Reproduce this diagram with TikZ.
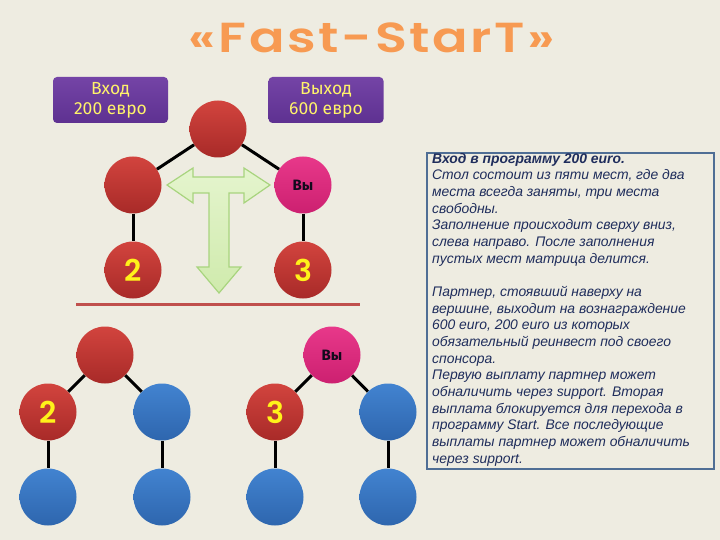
\documentclass[tikz,border=0pt]{standalone}
\usepackage{fontspec}
\usepackage{graphicx}
\setmainfont{Liberation Sans}
\newfontfamily\titlefont[LetterSpace=5]{Poppins SemiBold}
\newfontfamily\numfont{Poppins SemiBold}
\newfontfamily\boxfont{Fira Sans}
\newfontfamily\txtfont{Liberation Sans}
\definecolor{bg}{HTML}{EEECE1}
\definecolor{ttl}{HTML}{F79A52}
\definecolor{redT}{HTML}{D2443E}
\definecolor{redB}{HTML}{A82A28}
\definecolor{pinkT}{HTML}{E8388A}
\definecolor{pinkB}{HTML}{CC2070}
\definecolor{blueT}{HTML}{4283D0}
\definecolor{blueB}{HTML}{2E66AE}
\definecolor{purpT}{HTML}{7444A6}
\definecolor{purpB}{HTML}{5E3191}
\definecolor{ylw}{HTML}{FFF36A}
\definecolor{ylw2}{HTML}{FFF21A}
\definecolor{navy}{HTML}{1F2D5C}
\definecolor{frame}{HTML}{4F6E95}
\definecolor{grnF}{HTML}{D9F0B8}
\definecolor{grnD}{HTML}{A8D47E}
\definecolor{redline}{HTML}{C0504D}
\tikzset{
  ball/.style={circle, minimum size=57pt, inner sep=0pt},
  redball/.style={ball, top color=redT, bottom color=redB},
  pinkball/.style={ball, top color=pinkT, bottom color=pinkB, font=\boxfont\bfseries\fontsize{15}{15}\selectfont, text=black!80!purpB},
  blueball/.style={ball, top color=blueT, bottom color=blueB},
  numtxt/.style={font=\numfont\fontsize{30}{30}\selectfont, text=ylw2},
  link/.style={line width=3pt, black},
  infobox/.style={rounded corners=4pt, top color=purpT, bottom color=purpB, minimum width=115pt, minimum height=46pt, align=center, text=ylw, font=\boxfont\fontsize{17.5}{20}\selectfont, inner sep=0pt}
}
\begin{document}
\begin{tikzpicture}[x=1pt,y=-1pt]
\fill[bg] (0,0) rectangle (720,540);
\useasboundingbox (0,0) rectangle (720,540);
% title
\node[text=ttl, font=\titlefont\fontsize{42}{42}\selectfont] (title) at (372,38) {\scalebox{1.25}[1]{«Fast-StarT»}};
% labels
\node[infobox] (in) at (110.5,100) {Вход\\200 евро};
\node[infobox] (out) at (326,100) {Выход\\600 евро};
% top tree
\node[redball] (t0) at (218,129) {};
\node[redball] (t1) at (133,185) {};
\node[pinkball] (t2) at (303,185) {Вы};
\node[redball, numtxt] (t3) at (133,270) {2};
\node[redball, numtxt] (t4) at (303,270) {3};
% T arrow
\draw[grnD, line width=1.2pt, top color=grnF!70!white, bottom color=grnF!80!grnD, line join=miter]
  (167,185) -- (193,168) -- (193,177) -- (244,177) -- (244,168) -- (270,185) -- (244,203) -- (244,193)
  -- (229,193) -- (229,267) -- (241,267) -- (219,293) -- (197,267) -- (209,267) -- (209,193)
  -- (193,193) -- (193,203) -- cycle;
% separator
\coordinate (sepL) at (76,304);
\coordinate (sepR) at (360,304);
\draw[redline, line width=3pt] (sepL) -- (sepR);
% bottom trees
\node[redball] (a0) at (105,355) {};
\node[redball, numtxt] (a1) at (48,412) {2};
\node[blueball] (a2) at (162,412) {};
\node[blueball] (a3) at (48,497) {};
\node[blueball] (a4) at (162,497) {};
\node[pinkball] (b0) at (332,355) {Вы};
\node[redball, numtxt] (b1) at (275,412) {3};
\node[blueball] (b2) at (388,412) {};
\node[blueball] (b3) at (275,497) {};
\node[blueball] (b4) at (388,497) {};
% links
\draw[link] (t0) -- (t1);
\draw[link] (t0) -- (t2);
\draw[link] (t1) -- (t3);
\draw[link] (t2) -- (t4);
\draw[link] (a0) -- (a1);
\draw[link] (a0) -- (a2);
\draw[link] (a1) -- (a3);
\draw[link] (a2) -- (a4);
\draw[link] (b0) -- (b1);
\draw[link] (b0) -- (b2);
\draw[link] (b1) -- (b3);
\draw[link] (b2) -- (b4);
% text box
\node[draw=frame, line width=2pt, minimum width=287pt, minimum height=316pt, anchor=north west, inner sep=0pt] (box) at (426,152) {};
\node[anchor=north west, text=navy, align=left, inner sep=0pt, font=\txtfont\itshape\fontsize{13.9}{16.67}\selectfont] (txt) at (432,153) {%
\textbf{Вход в программу 200 euro.}\\
Стол состоит из пяти мест, где два\\
места всегда заняты, три места\\
свободны.\\
Заполнение происходит сверху вниз,\\
слева направо. После заполнения\\
пустых мест матрица делится.\\
\strut\\
Партнер, стоявший наверху на\\
вершине, выходит на вознаграждение\\
600 euro, 200 euro из которых\\
обязательный реинвест под своего\\
спонсора.\\
Первую выплату партнер может\\
обналичить через support. Вторая\\
выплата блокируется для перехода в\\
программу Start. Все последующие\\
выплаты партнер может обналичить\\
через support.};
\end{tikzpicture}
\end{document}
